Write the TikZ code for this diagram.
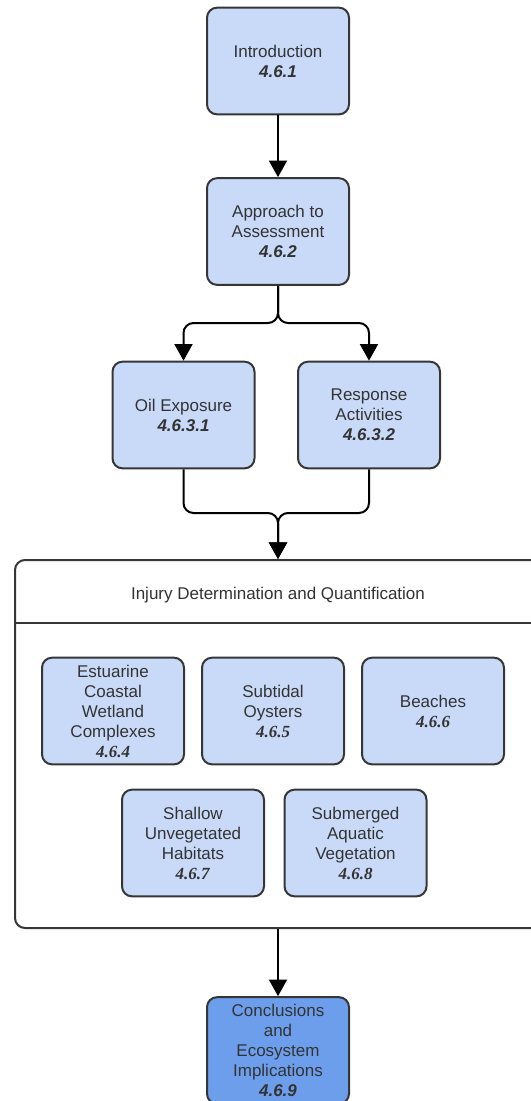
\documentclass[tikz,border=0pt]{standalone}
\usepackage{fontspec}
\setmainfont{Liberation Sans}
\newfontfamily\numserif{Liberation Serif}
\usepackage{tikz}
\usepackage{xcolor}
\usetikzlibrary{positioning,shapes,arrows.meta}
\definecolor{boxfill}{HTML}{C9DAF8}
\definecolor{darkfill}{HTML}{6D9EEB}
\definecolor{boxline}{HTML}{363636}
\definecolor{boxtext}{HTML}{333333}
\newcommand{\secno}[1]{\textbf{\textit{#1}}}
\newcommand{\secnos}[1]{{\numserif\textbf{\textit{#1}}}}
\tikzset{
  box/.style={draw=boxline,fill=boxfill,rounded corners=7.5pt,line width=1.5pt,
    minimum width=106.5pt,minimum height=80pt,align=center,text=boxtext,
    font=\fontsize{12.75}{15}\selectfont},
  conn/.style={line width=1.5pt,rounded corners=7.5pt},
  arr/.style={conn,-{Triangle[width=13.5pt,length=12.5pt]}}
}
\begin{document}
\begin{tikzpicture}[x=0.75pt,y=-0.75pt]
  \useasboundingbox (0,0) rectangle (531,1101);
  % top chain
  \node[box] (intro) at (278,61) {Introduction\\\secno{4.6.1}};
  \node[box] (approach) at (278,231.5) {Approach to\\Assessment\\\secno{4.6.2}};
  \node[box] (oil) at (183.5,415) {Oil Exposure\\\secno{4.6.3.1}};
  \node[box] (resp) at (369,415) {Response\\Activities\\\secno{4.6.3.2}};
  \coordinate (split) at (278,323);
  \coordinate (merge) at (278,513);
  % container
  \node[draw=boxline,line width=1.5pt,rounded corners=7.5pt,fill=white,
    minimum width=394.5pt,minimum height=276pt] (injury) at (278,744) {};
  \draw[line width=1.5pt,boxline] (injury.west |- 0,623) -- (injury.east |- 0,623);
  \node[text=boxtext,font=\fontsize{12.75}{15}\selectfont] (title) at (278,595)
    {Injury Determination and Quantification};
  % habitats
  \node[box] (estuarine) at (113,711) {Estuarine\\Coastal\\Wetland\\Complexes\\\secnos{4.6.4}};
  \node[box] (oysters) at (273,711) {Subtidal\\Oysters\\\secnos{4.6.5}};
  \node[box] (beaches) at (433,711) {Beaches\\\secnos{4.6.6}};
  \node[box] (shallow) at (193,843) {Shallow\\Unvegetated\\Habitats\\\secnos{4.6.7}};
  \node[box] (sav) at (355.5,843) {Submerged\\Aquatic\\Vegetation\\\secnos{4.6.8}};
  % conclusions
  \node[box,fill=darkfill] (concl) at (278,1050.5) {Conclusions\\and\\Ecosystem\\Implications\\\secno{4.6.9}};
  % connectors
  \draw[arr] (intro) -- (approach);
  \draw[arr] (approach.south) -- (split) -| (oil.north);
  \draw[arr] (approach.south) -- (split) -| (resp.north);
  \draw[arr] (oil.south) |- (merge) -- (injury.north);
  \draw[arr] (resp.south) |- (merge) -- (injury.north);
  \draw[arr] (injury.south) -- (concl.north);
\end{tikzpicture}
\end{document}
